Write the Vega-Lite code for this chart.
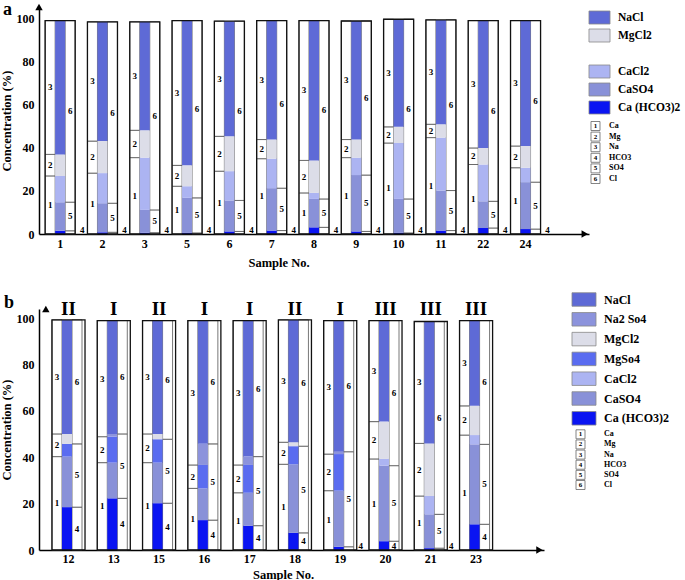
{
 "$schema": "https://vega.github.io/schema/vega-lite/v6.json",
 "padding": {"left": 0, "top": 0, "right": 0, "bottom": 0},
 "background": "white",
 "bounds": "flush",
 "align": "none",
 "columns": 2,
 "spacing": {"row": 75, "column": 0.5},
 "config": {
  "view": {"stroke": null},
  "axis": {"labelFont": "Liberation Serif", "titleFont": "Liberation Serif", "labelFontWeight": "bold", "titleFontWeight": "bold", "labelColor": "black", "titleColor": "black", "domainColor": "black", "domainWidth": 1.5, "ticks": false, "grid": false, "labelFontSize": 12, "titleFontSize": 12.5, "labelOverlap": false},
  "text": {"font": "Liberation Serif", "fontWeight": "bold", "color": "black"},
  "title": {"font": "Liberation Serif", "fontWeight": "bold", "color": "black", "fontSize": 18}
 },
 "datasets": {
  "a": [
   {"s":"1","c":"L","k":"Ca","v":27},{"s":"1","c":"L","k":"Mg","v":10},{"s":"1","c":"L","k":"Na","v":62.2},
   {"s":"1","c":"R","k":"HCO3","v":1.5},{"s":"1","c":"R","k":"SO4","v":13.3},{"s":"1","c":"R","k":"Cl","v":84.4},
   {"s":"1","c":"M","k":"Ca(HCO3)2","v":1.5},{"s":"1","c":"M","k":"CaSO4","v":13.3},{"s":"1","c":"M","k":"CaCl2","v":12.2},{"s":"1","c":"M","k":"MgCl2","v":10},{"s":"1","c":"M","k":"NaCl","v":62.2},
   {"s":"2","c":"L","k":"Ca","v":28.3},{"s":"2","c":"L","k":"Mg","v":14.9},{"s":"2","c":"L","k":"Na","v":55.4},
   {"s":"2","c":"R","k":"HCO3","v":0.8},{"s":"2","c":"R","k":"SO4","v":13.5},{"s":"2","c":"R","k":"Cl","v":84.3},
   {"s":"2","c":"M","k":"Ca(HCO3)2","v":0.8},{"s":"2","c":"M","k":"CaSO4","v":13.5},{"s":"2","c":"M","k":"CaCl2","v":14},{"s":"2","c":"M","k":"MgCl2","v":14.9},{"s":"2","c":"M","k":"NaCl","v":55.4},
   {"s":"3","c":"L","k":"Ca","v":35.5},{"s":"3","c":"L","k":"Mg","v":12.7},{"s":"3","c":"L","k":"Na","v":50.4},
   {"s":"3","c":"R","k":"HCO3","v":0.6},{"s":"3","c":"R","k":"SO4","v":10.6},{"s":"3","c":"R","k":"Cl","v":87.4},
   {"s":"3","c":"M","k":"Ca(HCO3)2","v":0.6},{"s":"3","c":"M","k":"CaSO4","v":10.6},{"s":"3","c":"M","k":"CaCl2","v":24.3},{"s":"3","c":"M","k":"MgCl2","v":12.7},{"s":"3","c":"M","k":"NaCl","v":50.4},
   {"s":"5","c":"L","k":"Ca","v":22.2},{"s":"5","c":"L","k":"Mg","v":9.7},{"s":"5","c":"L","k":"Na","v":67.3},
   {"s":"5","c":"R","k":"HCO3","v":0.5},{"s":"5","c":"R","k":"SO4","v":16.3},{"s":"5","c":"R","k":"Cl","v":82.4},
   {"s":"5","c":"M","k":"Ca(HCO3)2","v":0.5},{"s":"5","c":"M","k":"CaSO4","v":16.3},{"s":"5","c":"M","k":"CaCl2","v":5.4},{"s":"5","c":"M","k":"MgCl2","v":9.7},{"s":"5","c":"M","k":"NaCl","v":67.3},
   {"s":"6","c":"L","k":"Ca","v":29.2},{"s":"6","c":"L","k":"Mg","v":16.2},{"s":"6","c":"L","k":"Na","v":53.5},
   {"s":"6","c":"R","k":"HCO3","v":1.2},{"s":"6","c":"R","k":"SO4","v":14.4},{"s":"6","c":"R","k":"Cl","v":83.3},
   {"s":"6","c":"M","k":"Ca(HCO3)2","v":1.2},{"s":"6","c":"M","k":"CaSO4","v":14.4},{"s":"6","c":"M","k":"CaCl2","v":13.6},{"s":"6","c":"M","k":"MgCl2","v":16.2},{"s":"6","c":"M","k":"NaCl","v":53.5},
   {"s":"7","c":"L","k":"Ca","v":35},{"s":"7","c":"L","k":"Mg","v":8.9},{"s":"7","c":"L","k":"Na","v":55.3},
   {"s":"7","c":"R","k":"HCO3","v":1.6},{"s":"7","c":"R","k":"SO4","v":19.7},{"s":"7","c":"R","k":"Cl","v":77.9},
   {"s":"7","c":"M","k":"Ca(HCO3)2","v":1.6},{"s":"7","c":"M","k":"CaSO4","v":19.7},{"s":"7","c":"M","k":"CaCl2","v":13.7},{"s":"7","c":"M","k":"MgCl2","v":8.9},{"s":"7","c":"M","k":"NaCl","v":55.3},
   {"s":"8","c":"L","k":"Ca","v":19.1},{"s":"8","c":"L","k":"Mg","v":15.1},{"s":"8","c":"L","k":"Na","v":65},
   {"s":"8","c":"R","k":"HCO3","v":3.1},{"s":"8","c":"R","k":"SO4","v":13.2},{"s":"8","c":"R","k":"Cl","v":82.9},
   {"s":"8","c":"M","k":"Ca(HCO3)2","v":3.1},{"s":"8","c":"M","k":"CaSO4","v":13.2},{"s":"8","c":"M","k":"CaCl2","v":2.8},{"s":"8","c":"M","k":"MgCl2","v":15.1},{"s":"8","c":"M","k":"NaCl","v":65},
   {"s":"9","c":"L","k":"Ca","v":35.5},{"s":"9","c":"L","k":"Mg","v":8.4},{"s":"9","c":"L","k":"Na","v":55.1},
   {"s":"9","c":"R","k":"HCO3","v":1.2},{"s":"9","c":"R","k":"SO4","v":26.2},{"s":"9","c":"R","k":"Cl","v":71.6},
   {"s":"9","c":"M","k":"Ca(HCO3)2","v":1.2},{"s":"9","c":"M","k":"CaSO4","v":26.2},{"s":"9","c":"M","k":"CaCl2","v":8.1},{"s":"9","c":"M","k":"MgCl2","v":8.4},{"s":"9","c":"M","k":"NaCl","v":55.1},
   {"s":"10","c":"L","k":"Ca","v":42.3},{"s":"10","c":"L","k":"Mg","v":7.5},{"s":"10","c":"L","k":"Na","v":50},
   {"s":"10","c":"R","k":"HCO3","v":0.5},{"s":"10","c":"R","k":"SO4","v":15.8},{"s":"10","c":"R","k":"Cl","v":83.5},
   {"s":"10","c":"M","k":"Ca(HCO3)2","v":0.5},{"s":"10","c":"M","k":"CaSO4","v":15.8},{"s":"10","c":"M","k":"CaCl2","v":26},{"s":"10","c":"M","k":"MgCl2","v":7.5},{"s":"10","c":"M","k":"NaCl","v":50},
   {"s":"11","c":"L","k":"Ca","v":44.8},{"s":"11","c":"L","k":"Mg","v":6.2},{"s":"11","c":"L","k":"Na","v":48.5},
   {"s":"11","c":"R","k":"HCO3","v":1.6},{"s":"11","c":"R","k":"SO4","v":18.6},{"s":"11","c":"R","k":"Cl","v":79.3},
   {"s":"11","c":"M","k":"Ca(HCO3)2","v":1.6},{"s":"11","c":"M","k":"CaSO4","v":18.6},{"s":"11","c":"M","k":"CaCl2","v":24.6},{"s":"11","c":"M","k":"MgCl2","v":6.2},{"s":"11","c":"M","k":"NaCl","v":48.5},
   {"s":"22","c":"L","k":"Ca","v":32.3},{"s":"22","c":"L","k":"Mg","v":7.7},{"s":"22","c":"L","k":"Na","v":59.2},
   {"s":"22","c":"R","k":"HCO3","v":2.8},{"s":"22","c":"R","k":"SO4","v":12.4},{"s":"22","c":"R","k":"Cl","v":84},
   {"s":"22","c":"M","k":"Ca(HCO3)2","v":2.8},{"s":"22","c":"M","k":"CaSO4","v":12.4},{"s":"22","c":"M","k":"CaCl2","v":17.1},{"s":"22","c":"M","k":"MgCl2","v":7.7},{"s":"22","c":"M","k":"NaCl","v":59.2},
   {"s":"24","c":"L","k":"Ca","v":30.8},{"s":"24","c":"L","k":"Mg","v":10.1},{"s":"24","c":"L","k":"Na","v":58.3},
   {"s":"24","c":"R","k":"HCO3","v":2.3},{"s":"24","c":"R","k":"SO4","v":21.8},{"s":"24","c":"R","k":"Cl","v":75.1},
   {"s":"24","c":"M","k":"Ca(HCO3)2","v":2.3},{"s":"24","c":"M","k":"CaSO4","v":21.8},{"s":"24","c":"M","k":"CaCl2","v":6.7},{"s":"24","c":"M","k":"MgCl2","v":10.1},{"s":"24","c":"M","k":"NaCl","v":58.3}
  ],
  "b": [
   {"s":"12","c":"L","k":"Ca","v":40.3},{"s":"12","c":"L","k":"Mg","v":9.8},{"s":"12","c":"L","k":"Na","v":49.2},
   {"s":"12","c":"R","k":"HCO3","v":18.5},{"s":"12","c":"R","k":"SO4","v":27.3},{"s":"12","c":"R","k":"Cl","v":53.5},
   {"s":"12","c":"M","k":"Ca(HCO3)2","v":18.5},{"s":"12","c":"M","k":"CaSO4","v":21.8},{"s":"12","c":"M","k":"MgSO4","v":5.5},{"s":"12","c":"M","k":"MgCl2","v":4.3},{"s":"12","c":"M","k":"NaCl","v":49.2},
   {"s":"13","c":"L","k":"Ca","v":37.7},{"s":"13","c":"L","k":"Mg","v":11.2},{"s":"13","c":"L","k":"Na","v":50.1},
   {"s":"13","c":"R","k":"HCO3","v":22.3},{"s":"13","c":"R","k":"SO4","v":27.8},{"s":"13","c":"R","k":"Cl","v":48.9},
   {"s":"13","c":"M","k":"Ca(HCO3)2","v":22.3},{"s":"13","c":"M","k":"CaSO4","v":15.4},{"s":"13","c":"M","k":"MgSO4","v":11.2},{"s":"13","c":"M","k":"Na2SO4","v":1.2},{"s":"13","c":"M","k":"NaCl","v":48.9},
   {"s":"15","c":"L","k":"Ca","v":37.7},{"s":"15","c":"L","k":"Mg","v":12.4},{"s":"15","c":"L","k":"Na","v":48.9},
   {"s":"15","c":"R","k":"HCO3","v":20.2},{"s":"15","c":"R","k":"SO4","v":27.6},{"s":"15","c":"R","k":"Cl","v":51.2},
   {"s":"15","c":"M","k":"Ca(HCO3)2","v":20.2},{"s":"15","c":"M","k":"CaSO4","v":17.5},{"s":"15","c":"M","k":"MgSO4","v":10.1},{"s":"15","c":"M","k":"MgCl2","v":2.3},{"s":"15","c":"M","k":"NaCl","v":48.9},
   {"s":"16","c":"L","k":"Ca","v":26.6},{"s":"16","c":"L","k":"Mg","v":10.1},{"s":"16","c":"L","k":"Na","v":62.3},
   {"s":"16","c":"R","k":"HCO3","v":12.9},{"s":"16","c":"R","k":"SO4","v":32.9},{"s":"16","c":"R","k":"Cl","v":53.2},
   {"s":"16","c":"M","k":"Ca(HCO3)2","v":12.9},{"s":"16","c":"M","k":"CaSO4","v":13.7},{"s":"16","c":"M","k":"MgSO4","v":10.1},{"s":"16","c":"M","k":"Na2SO4","v":9.1},{"s":"16","c":"M","k":"NaCl","v":53.2},
   {"s":"17","c":"L","k":"Ca","v":24.7},{"s":"17","c":"L","k":"Mg","v":12},{"s":"17","c":"L","k":"Na","v":62.3},
   {"s":"17","c":"R","k":"HCO3","v":10.5},{"s":"17","c":"R","k":"SO4","v":29.8},{"s":"17","c":"R","k":"Cl","v":58.7},
   {"s":"17","c":"M","k":"Ca(HCO3)2","v":10.5},{"s":"17","c":"M","k":"CaSO4","v":14.2},{"s":"17","c":"M","k":"MgSO4","v":12},{"s":"17","c":"M","k":"Na2SO4","v":3.6},{"s":"17","c":"M","k":"NaCl","v":58.7},
   {"s":"18","c":"L","k":"Ca","v":37},{"s":"18","c":"L","k":"Mg","v":9.5},{"s":"18","c":"L","k":"Na","v":52.8},
   {"s":"18","c":"R","k":"HCO3","v":7.4},{"s":"18","c":"R","k":"SO4","v":37.4},{"s":"18","c":"R","k":"Cl","v":54.5},
   {"s":"18","c":"M","k":"Ca(HCO3)2","v":7.4},{"s":"18","c":"M","k":"CaSO4","v":29.6},{"s":"18","c":"M","k":"MgSO4","v":7.8},{"s":"18","c":"M","k":"MgCl2","v":1.7},{"s":"18","c":"M","k":"NaCl","v":52.8},
   {"s":"19","c":"L","k":"Ca","v":25.6},{"s":"19","c":"L","k":"Mg","v":15.8},{"s":"19","c":"L","k":"Na","v":57.6},
   {"s":"19","c":"R","k":"HCO3","v":1.4},{"s":"19","c":"R","k":"SO4","v":41},{"s":"19","c":"R","k":"Cl","v":56.6},
   {"s":"19","c":"M","k":"Ca(HCO3)2","v":1.4},{"s":"19","c":"M","k":"CaSO4","v":24.2},{"s":"19","c":"M","k":"MgSO4","v":15.8},{"s":"19","c":"M","k":"Na2SO4","v":1},{"s":"19","c":"M","k":"NaCl","v":56.6},
   {"s":"20","c":"L","k":"Ca","v":39.3},{"s":"20","c":"L","k":"Mg","v":16.1},{"s":"20","c":"L","k":"Na","v":43.6},
   {"s":"20","c":"R","k":"HCO3","v":3.8},{"s":"20","c":"R","k":"SO4","v":32.6},{"s":"20","c":"R","k":"Cl","v":62.6},
   {"s":"20","c":"M","k":"Ca(HCO3)2","v":3.8},{"s":"20","c":"M","k":"CaSO4","v":32.6},{"s":"20","c":"M","k":"CaCl2","v":2.9},{"s":"20","c":"M","k":"MgCl2","v":16.1},{"s":"20","c":"M","k":"NaCl","v":43.6},
   {"s":"21","c":"L","k":"Ca","v":23.3},{"s":"21","c":"L","k":"Mg","v":22.7},{"s":"21","c":"L","k":"Na","v":52.6},
   {"s":"21","c":"R","k":"HCO3","v":0.8},{"s":"21","c":"R","k":"SO4","v":14.6},{"s":"21","c":"R","k":"Cl","v":83.2},
   {"s":"21","c":"M","k":"Ca(HCO3)2","v":0.8},{"s":"21","c":"M","k":"CaSO4","v":14.6},{"s":"21","c":"M","k":"CaCl2","v":7.9},{"s":"21","c":"M","k":"MgCl2","v":22.7},{"s":"21","c":"M","k":"NaCl","v":52.6},
   {"s":"23","c":"L","k":"Ca","v":49.6},{"s":"23","c":"L","k":"Mg","v":12.6},{"s":"23","c":"L","k":"Na","v":36.8},
   {"s":"23","c":"R","k":"HCO3","v":11.1},{"s":"23","c":"R","k":"SO4","v":34.5},{"s":"23","c":"R","k":"Cl","v":53.4},
   {"s":"23","c":"M","k":"Ca(HCO3)2","v":11.1},{"s":"23","c":"M","k":"CaSO4","v":34.5},{"s":"23","c":"M","k":"CaCl2","v":4},{"s":"23","c":"M","k":"MgCl2","v":12.6},{"s":"23","c":"M","k":"NaCl","v":36.8}
  ],
  "bt": [
   {"s":"12","t":"II"},{"s":"13","t":"I"},{"s":"15","t":"II"},{"s":"16","t":"I"},{"s":"17","t":"I"},
   {"s":"18","t":"II"},{"s":"19","t":"I"},{"s":"20","t":"III"},{"s":"21","t":"III"},{"s":"23","t":"III"}
  ]
 },
 "concat": [
  {
   "width": 550,
   "height": 227,
   "title": {"text": "a", "anchor": "start", "frame": "group", "offset": -15, "dx": -36},
   "layer": [
    {
     "data": {"name": "a"},
     "transform": [
      {"calculate": "indexof(['Ca','Mg','Na','HCO3','SO4','Cl','Ca(HCO3)2','CaSO4','CaCl2','MgSO4','Na2SO4','MgCl2','NaCl'], datum.k)", "as": "o"},
      {"stack": "v", "groupby": ["s", "c"], "sort": [{"field": "o", "order": "ascending"}], "as": ["y0", "y1"]},
      {"calculate": "(datum.y0 + datum.y1) / 2", "as": "mid"},
      {"calculate": "datum.o < 6 ? '' + (datum.o + 1) : ''", "as": "n"}
     ],
     "layer": [
      {
       "transform": [{"filter": "datum.c != 'M'"}],
       "mark": {"type": "bar", "fill": "white", "stroke": "#555", "strokeWidth": 0.8},
       "encoding": {
        "x": {"field": "s", "type": "nominal", "scale": {"domain": ["1","2","3","5","6","7","8","9","10","11","22","24","_end"], "paddingInner": 0, "paddingOuter": 0},
              "axis": {"title": "Sample No.", "labelAngle": 0, "labelPadding": 4, "titlePadding": 7, "titleX": 239.5, "labelExpr": "datum.value == '_end' ? '' : datum.value"}},
        "xOffset": {"field": "c", "type": "nominal", "scale": {"domain": ["L","M","R"], "paddingInner": 0, "paddingOuter": 0.615}},
        "y": {"field": "y0", "type": "quantitative", "scale": {"domain": [0, 105.5], "nice": false, "zero": false},
              "axis": {"values": [0,10,20,30,40,50,60,70,80,90,100], "title": "Concentration (%)", "titlePadding": 3, "labelPadding": 5}},
        "y2": {"field": "y1"}
       }
      },
      {
       "transform": [{"filter": "datum.c == 'M'"}],
       "mark": {"type": "bar"},
       "encoding": {
        "x": {"field": "s", "type": "nominal"},
        "xOffset": {"field": "c", "type": "nominal"},
        "y": {"field": "y0", "type": "quantitative"},
        "y2": {"field": "y1"},
        "fill": {"field": "k", "type": "nominal", "legend": null,
                 "scale": {"domain": ["NaCl","Na2SO4","MgCl2","MgSO4","CaCl2","CaSO4","Ca(HCO3)2"], "range": ["#5e6ad6","#8c93dc","#dcdde8","#5a6cf0","#acb4f2","#8991d8","#0a14f2"]}}
       }
      },
      {
       "transform": [{"filter": "datum.c != 'M' && datum.k != 'HCO3'"}],
       "mark": {"type": "text", "fontSize": 9},
       "encoding": {
        "x": {"field": "s", "type": "nominal"},
        "xOffset": {"field": "c", "type": "nominal"},
        "y": {"field": "mid", "type": "quantitative"},
        "text": {"field": "n"}
       }
      },
      {
       "transform": [{"filter": "datum.k == 'HCO3'"}],
       "mark": {"type": "text", "fontSize": 9, "dx": 12, "dy": -1, "baseline": "alphabetic"},
       "encoding": {
        "x": {"field": "s", "type": "nominal"},
        "xOffset": {"field": "c", "type": "nominal"},
        "y": {"datum": 0, "type": "quantitative"},
        "text": {"field": "n"}
       }
      },
      {
       "transform": [{"filter": "datum.c == 'L'"}],
       "mark": {"type": "bar", "fill": "transparent", "stroke": "#111", "strokeWidth": 1.3, "width": {"band": 0.71}},
       "encoding": {
        "x": {"field": "s", "type": "nominal"},
        "y": {"aggregate": "max", "field": "y1", "type": "quantitative"}
       }
      }
     ]
    },
    {
     "data": {"values": [{}]},
     "mark": {"type": "point", "shape": "triangle-up", "filled": true, "fill": "black", "size": 55, "opacity": 1},
     "encoding": {"x": {"datum": "1", "type": "nominal", "bandPosition": 0}, "y": {"datum": 105.5, "type": "quantitative"}}
    },
    {
     "data": {"values": [{}]},
     "mark": {"type": "point", "shape": "triangle-right", "filled": true, "fill": "black", "size": 55, "opacity": 1},
     "encoding": {"x": {"datum": "_end", "type": "nominal", "bandPosition": 0.9}, "y": {"datum": 0, "type": "quantitative"}}
    }
   ]
  },
  {
   "width": 20,
   "height": 227,
   "layer": [
    {
     "data": {"values": [{"k":"NaCl","t":"NaCl"},{"k":"MgCl2","t":"MgCl2"},{"k":"CaCl2","t":"CaCl2"},{"k":"CaSO4","t":"CaSO4"},{"k":"Ca(HCO3)2","t":"Ca (HCO3)2"}]},
     "encoding": {"y": {"field": "k", "type": "nominal", "axis": null, "scale": {"type": "point", "domain": ["NaCl","MgCl2","gap","CaCl2","CaSO4","Ca(HCO3)2"], "range": [10.5, 100.5], "padding": 0}}},
     "layer": [
      {"mark": {"type": "point", "shape": "M-1.62,-1L1.62,-1L1.62,1L-1.62,1Z", "size": 169, "filled": true, "stroke": "#888", "strokeWidth": 0.8, "opacity": 1},
       "encoding": {"fill": {"field": "k", "type": "nominal", "legend": null,
                 "scale": {"domain": ["NaCl","Na2SO4","MgCl2","MgSO4","CaCl2","CaSO4","Ca(HCO3)2"], "range": ["#5e6ad6","#8c93dc","#dcdde8","#5a6cf0","#acb4f2","#8991d8","#0a14f2"]}}}},
      {"mark": {"type": "text", "align": "left", "dx": 18.5, "fontSize": 11.5}, "encoding": {"text": {"field": "t"}}}
     ]
    },
    {
     "data": {"values": [{"n":"1","t":"Ca"},{"n":"2","t":"Mg"},{"n":"3","t":"Na"},{"n":"4","t":"HCO3"},{"n":"5","t":"SO4"},{"n":"6","t":"Cl"}]},
     "encoding": {"y": {"field": "n", "type": "nominal", "axis": null, "scale": {"type": "point", "domain": ["1","2","3","4","5","6"], "range": [119, 172], "padding": 0}}},
     "layer": [
      {"mark": {"type": "point", "shape": "M-1.89,-1L0.11,-1L0.11,1L-1.89,1Z", "size": 81, "filled": true, "fill": "white", "stroke": "#666", "strokeWidth": 0.8, "opacity": 1}},
      {"mark": {"type": "text", "dx": -4, "fontSize": 7}, "encoding": {"text": {"field": "n"}}},
      {"mark": {"type": "text", "align": "left", "dx": 9.5, "fontSize": 8}, "encoding": {"text": {"field": "t"}}}
     ]
    }
   ],
   "resolve": {"scale": {"y": "independent"}}
  },
  {
   "width": 505,
   "height": 241,
   "title": {"text": "b", "anchor": "start", "frame": "group", "offset": -12, "dx": -35},
   "layer": [
    {
     "data": {"name": "b"},
     "transform": [
      {"calculate": "indexof(['Ca','Mg','Na','HCO3','SO4','Cl','Ca(HCO3)2','CaSO4','CaCl2','MgSO4','Na2SO4','MgCl2','NaCl'], datum.k)", "as": "o"},
      {"stack": "v", "groupby": ["s", "c"], "sort": [{"field": "o", "order": "ascending"}], "as": ["y0", "y1"]},
      {"calculate": "(datum.y0 + datum.y1) / 2", "as": "mid"},
      {"calculate": "datum.o < 6 ? '' + (datum.o + 1) : ''", "as": "n"}
     ],
     "layer": [
      {
       "transform": [{"filter": "datum.c != 'M'"}],
       "mark": {"type": "bar", "fill": "white", "stroke": "#555", "strokeWidth": 0.8},
       "encoding": {
        "x": {"field": "s", "type": "nominal", "scale": {"domain": ["12","13","15","16","17","18","19","20","21","23","_end"], "paddingInner": 0, "paddingOuter": 0.0756, "align": 1},
              "axis": {"title": "Sample No.", "labelAngle": 0, "labelPadding": 3, "titlePadding": 4, "titleX": 244, "labelExpr": "datum.value == '_end' ? '' : datum.value"}},
        "xOffset": {"field": "c", "type": "nominal", "scale": {"domain": ["L","M","R"], "paddingInner": 0, "paddingOuter": 0.56}},
        "y": {"field": "y0", "type": "quantitative", "scale": {"domain": [0, 104], "nice": false, "zero": false},
              "axis": {"values": [0,10,20,30,40,50,60,70,80,90,100], "title": "Concentration (%)", "titlePadding": 3, "labelPadding": 5}},
        "y2": {"field": "y1"}
       }
      },
      {
       "transform": [{"filter": "datum.c == 'M'"}],
       "mark": {"type": "bar"},
       "encoding": {
        "x": {"field": "s", "type": "nominal"},
        "xOffset": {"field": "c", "type": "nominal"},
        "y": {"field": "y0", "type": "quantitative"},
        "y2": {"field": "y1"},
        "fill": {"field": "k", "type": "nominal", "legend": null,
                 "scale": {"domain": ["NaCl","Na2SO4","MgCl2","MgSO4","CaCl2","CaSO4","Ca(HCO3)2"], "range": ["#5e6ad6","#8c93dc","#dcdde8","#5a6cf0","#acb4f2","#8991d8","#0a14f2"]}}
       }
      },
      {
       "transform": [{"filter": "datum.c != 'M' && (datum.k != 'HCO3' || datum.v >= 2)"}],
       "mark": {"type": "text", "fontSize": 9},
       "encoding": {
        "x": {"field": "s", "type": "nominal"},
        "xOffset": {"field": "c", "type": "nominal"},
        "y": {"field": "mid", "type": "quantitative"},
        "text": {"field": "n"}
       }
      },
      {
       "transform": [{"filter": "datum.k == 'HCO3' && datum.v < 2"}],
       "mark": {"type": "text", "fontSize": 9, "dx": 12, "dy": -1, "baseline": "alphabetic"},
       "encoding": {
        "x": {"field": "s", "type": "nominal"},
        "xOffset": {"field": "c", "type": "nominal"},
        "y": {"datum": 0, "type": "quantitative"},
        "text": {"field": "n"}
       }
      },
      {
       "transform": [{"filter": "datum.c == 'L'"}],
       "mark": {"type": "bar", "fill": "transparent", "stroke": "#111", "strokeWidth": 1.3, "width": {"band": 0.73}},
       "encoding": {
        "x": {"field": "s", "type": "nominal"},
        "y": {"aggregate": "max", "field": "y1", "type": "quantitative"}
       }
      }
     ]
    },
    {
     "data": {"name": "bt"},
     "mark": {"type": "text", "fontSize": 19, "baseline": "middle"},
     "encoding": {"x": {"field": "s", "type": "nominal"}, "y": {"datum": 104, "type": "quantitative"}, "text": {"field": "t"}}
    },
    {
     "data": {"values": [{}]},
     "mark": {"type": "point", "shape": "triangle-up", "filled": true, "fill": "black", "size": 55, "opacity": 1},
     "encoding": {"x": {"datum": "12", "type": "nominal", "bandPosition": 0}, "y": {"datum": 104, "type": "quantitative"}}
    },
    {
     "data": {"values": [{}]},
     "mark": {"type": "point", "shape": "triangle-right", "filled": true, "fill": "black", "size": 55, "opacity": 1},
     "encoding": {"x": {"datum": "_end", "type": "nominal", "bandPosition": 0.9}, "y": {"datum": 0, "type": "quantitative"}}
    }
   ]
  },
  {
   "width": 1,
   "height": 241,
   "layer": [
    {
     "data": {"values": [{"k":"NaCl","t":"NaCl"},{"k":"Na2SO4","t":"Na2 So4"},{"k":"MgCl2","t":"MgCl2"},{"k":"MgSO4","t":"MgSo4"},{"k":"CaCl2","t":"CaCl2"},{"k":"CaSO4","t":"CaSO4"},{"k":"Ca(HCO3)2","t":"Ca (HCO3)2"}]},
     "encoding": {"y": {"field": "k", "type": "nominal", "axis": null, "scale": {"type": "point", "domain": ["NaCl","Na2SO4","MgCl2","MgSO4","CaCl2","CaSO4","Ca(HCO3)2"], "range": [-9.5, 109.3], "padding": 0}}},
     "layer": [
      {"mark": {"type": "point", "shape": "M-2.67,-1L0.89,-1L0.89,1L-2.67,1Z", "size": 182, "filled": true, "stroke": "#888", "strokeWidth": 0.8, "opacity": 1},
       "encoding": {"fill": {"field": "k", "type": "nominal", "legend": null,
                 "scale": {"domain": ["NaCl","Na2SO4","MgCl2","MgSO4","CaCl2","CaSO4","Ca(HCO3)2"], "range": ["#5e6ad6","#8c93dc","#dcdde8","#5a6cf0","#acb4f2","#8991d8","#0a14f2"]}}}},
      {"mark": {"type": "text", "align": "left", "dx": 14, "fontSize": 12}, "encoding": {"text": {"field": "t"}}}
     ]
    },
    {
     "data": {"values": [{"n":"1","t":"Ca"},{"n":"2","t":"Mg"},{"n":"3","t":"Na"},{"n":"4","t":"HCO3"},{"n":"5","t":"SO4"},{"n":"6","t":"Cl"}]},
     "encoding": {"y": {"field": "n", "type": "nominal", "axis": null, "scale": {"type": "point", "domain": ["1","2","3","4","5","6"], "range": [125.3, 176], "padding": 0}}},
     "layer": [
      {"mark": {"type": "point", "shape": "M-3.11,-1L-1.11,-1L-1.11,1L-3.11,1Z", "size": 81, "filled": true, "fill": "white", "stroke": "#666", "strokeWidth": 0.8, "opacity": 1}},
      {"mark": {"type": "text", "dx": -9.5, "fontSize": 7}, "encoding": {"text": {"field": "n"}}},
      {"mark": {"type": "text", "align": "left", "dx": 14, "fontSize": 8}, "encoding": {"text": {"field": "t"}}}
     ]
    }
   ],
   "resolve": {"scale": {"y": "independent"}}
  }
 ]
}
